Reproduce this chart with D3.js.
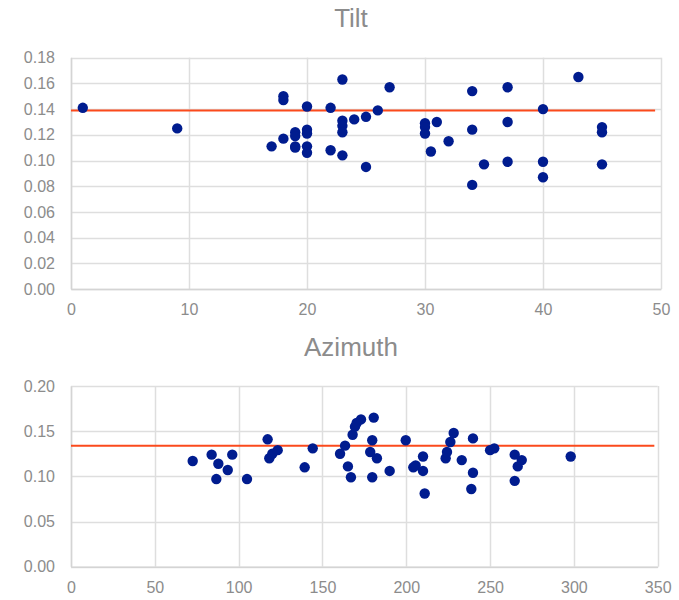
<!DOCTYPE html>
<html>
<head>
<meta charset="utf-8">
<script src="https://cdn.jsdelivr.net/npm/d3@7"></script>
<style>
body { margin: 0; background: #fff; }
text { font-family: "Liberation Sans", Arial, sans-serif; }
</style>
</head>
<body>
<div id="chart"></div>
<script>

// Tilt panel
const tiltX = [1, 9, 17, 18, 18, 18, 19, 19, 19, 19, 20, 20, 20, 20, 20, 22, 22,
	23, 23, 23, 23, 23, 24, 25, 25, 26, 27, 30, 30, 30, 30.5, 31, 32, 34, 34, 34,
	35, 37, 37, 37, 40, 40, 40, 43, 45, 45, 45];
const tiltY = [0.141, 0.125, 0.111, 0.150, 0.147, 0.117, 0.122, 0.119, 0.111, 0.110,
	0.142, 0.124, 0.121, 0.111, 0.106, 0.141, 0.108,
	0.163, 0.131, 0.127, 0.122, 0.104, 0.132, 0.134, 0.095, 0.139, 0.157,
	0.129, 0.126, 0.121, 0.107, 0.130, 0.115, 0.154, 0.124, 0.081,
	0.097, 0.157, 0.130, 0.099, 0.140, 0.099, 0.087, 0.165, 0.126, 0.122, 0.097];
const tiltMean = 0.139;
const tiltMeanX = [0, 49.5];
const tiltXTicks = [0, 10, 20, 30, 40, 50];
const tiltYTicks = [0, 0.02, 0.04, 0.06, 0.08, 0.10, 0.12, 0.14, 0.16, 0.18];

// Azimuth panel
const aziX = [72.6, 83.9, 87.9, 86.7, 93.5, 96.2, 105, 117.3, 118.3, 120.1, 123.3,
	139.4, 144.2, 160.5, 163.5, 165.2, 167, 168, 169.4, 170.4, 173, 178.5, 179.7,
	179.7, 180.6, 182.5, 190.1, 199.7, 204.2, 205.6, 210, 210, 211, 223.5, 224.3,
	226.3, 228.3, 233.1, 239.8, 239.8, 238.8, 250, 252.5, 264.7, 268.9, 266.5,
	264.7, 298.1];
const aziY = [0.117, 0.124, 0.114, 0.097, 0.107, 0.124, 0.097, 0.141, 0.120, 0.125, 0.129,
	0.110, 0.131, 0.125, 0.134, 0.111, 0.099, 0.146, 0.155, 0.159, 0.163, 0.127, 0.140,
	0.099, 0.165, 0.120, 0.106, 0.140, 0.110, 0.112, 0.122, 0.106, 0.081, 0.120, 0.127,
	0.138, 0.148, 0.118, 0.142, 0.104, 0.086, 0.129, 0.131, 0.124, 0.118, 0.111,
	0.095, 0.122];
const aziMean = 0.134;
const aziMeanX = [0, 348];
const aziXTicks = [0, 50, 100, 150, 200, 250, 300, 350];
const aziYTicks = [0, 0.05, 0.10, 0.15, 0.20];

const width = 679, height = 600;
const gray = "#8c8c8c";

const svg = d3.select("#chart").append("svg")
	.attr("width", width)
	.attr("height", height);

function panel(opt) {
	var x = d3.scaleLinear().domain(opt.xDomain).range([71, opt.right]);
	var y = d3.scaleLinear().domain(opt.yDomain).range([opt.bottom, opt.top]);
	var g = svg.append("g");

	// title
	g.append("text")
		.attr("x", 351)
		.attr("y", opt.titleY)
		.attr("text-anchor", "middle")
		.attr("font-size", 26)
		.attr("fill", gray)
		.text(opt.title);

	// horizontal grid
	g.selectAll(".hg")
		.data(opt.yTicks)
		.enter().append("line")
		.attr("x1", x(opt.xDomain[0])).attr("x2", x(opt.xDomain[1]))
		.attr("y1", d => Math.round(y(d)) + 0.5).attr("y2", d => Math.round(y(d)) + 0.5)
		.attr("stroke", "#dedede").attr("stroke-width", 1.5);

	// vertical grid
	g.selectAll(".vg")
		.data(opt.xTicks)
		.enter().append("line")
		.attr("x1", d => Math.round(x(d)) + 0.5).attr("x2", d => Math.round(x(d)) + 0.5)
		.attr("y1", y(opt.yDomain[0])).attr("y2", y(opt.yDomain[1]))
		.attr("stroke", "#dedede").attr("stroke-width", 1.5);

	// axes (labels only, no tick marks)
	var yAxis = d3.axisLeft(y).tickValues(opt.yTicks).tickFormat(d3.format(opt.yFmt)).tickSize(0).tickPadding(16);
	var xAxis = d3.axisBottom(x).tickValues(opt.xTicks).tickFormat(d3.format("d")).tickSize(0).tickPadding(15);

	var ya = g.append("g").attr("transform", "translate(71,0)").call(yAxis);
	var xa = g.append("g").attr("transform", "translate(0," + opt.bottom + ")").call(xAxis);
	[ya, xa].forEach(function(a) {
		a.select(".domain").attr("stroke", "#d4d4d4").attr("stroke-width", 1.5);
		a.selectAll("text").attr("font-size", 16).attr("fill", gray)
			.style("font-family", '"Liberation Sans", Arial, sans-serif');
	});

	// mean line
	g.append("line")
		.attr("x1", x(opt.meanX[0])).attr("x2", x(opt.meanX[1]))
		.attr("y1", y(opt.mean)).attr("y2", y(opt.mean))
		.attr("stroke", "#fb4a1c").attr("stroke-width", 2);

	// points
	g.selectAll("circle")
		.data(d3.zip(opt.xs, opt.ys))
		.enter().append("circle")
		.attr("cx", d => x(d[0]))
		.attr("cy", d => y(d[1]))
		.attr("r", 5.2)
		.attr("fill", "#001c8f");
}

panel({
	title: "Tilt", titleY: 27,
	xs: tiltX, ys: tiltY, mean: tiltMean, meanX: tiltMeanX,
	xDomain: [0, 50], yDomain: [0, 0.18],
	xTicks: tiltXTicks, yTicks: tiltYTicks, yFmt: ".2f",
	right: 661, top: 57.7, bottom: 289
});

panel({
	title: "Azimuth", titleY: 356,
	xs: aziX, ys: aziY, mean: aziMean, meanX: aziMeanX,
	xDomain: [0, 350], yDomain: [0, 0.20],
	xTicks: aziXTicks, yTicks: aziYTicks, yFmt: ".2f",
	right: 657.7, top: 386, bottom: 566.7
});

</script>
</body>
</html>
